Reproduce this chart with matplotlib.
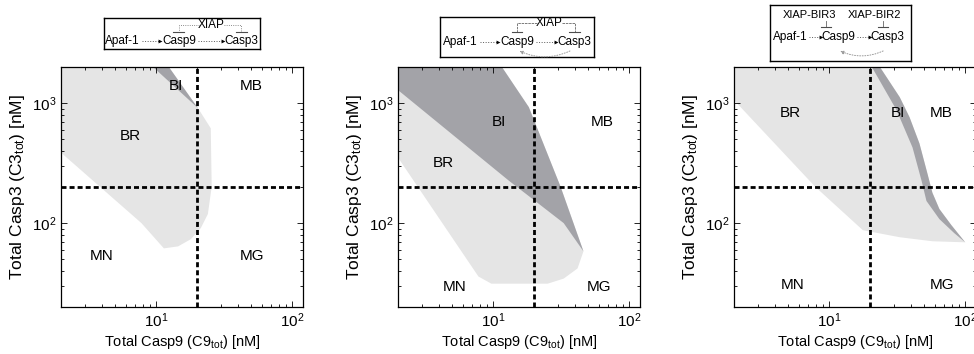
import matplotlib
matplotlib.use("Agg")
import matplotlib.pyplot as plt
from matplotlib.patches import Polygon

plt.rcParams["font.family"] = ["Liberation Sans", "DejaVu Sans"]
plt.rcParams["mathtext.fontset"] = "custom"
plt.rcParams["mathtext.rm"] = "Liberation Sans"
plt.rcParams["mathtext.it"] = "Liberation Sans:italic"

LIGHT = "#e5e5e5"
DARK = "#a3a3a8"

# threshold concentrations (dashed lines), nM
c9_thr = 20
c3_thr = 200

# region borders, (C9tot, C3tot) in nM
# panel 1: XIAP inhibits Casp9 and Casp3
p1_light_c9 = [2, 12.4, 20.3, 25.2, 25.6, 24.0, 21.3, 18.0, 14.5, 11.4, 7.8, 2]
p1_light_c3 = [2000, 2000, 908, 617, 201, 119, 91, 73.5, 64, 61.6, 100, 387]
p1_dark_c9 = [9.5, 12.4, 20.3]
p1_dark_c3 = [2000, 2000, 908]

# panel 2: XIAP + Casp3 -> Casp9 feedback
p2_light_c9 = [2, 11.6, 18.3, 31.3, 46.1, 41.7, 33.0, 25.2, 9.7, 7.8, 2]
p2_light_c3 = [2000, 2000, 925, 201, 58.2, 41.9, 34.5, 31.3, 31.3, 35.9, 352]
p2_dark_c9 = [2, 11.6, 18.3, 31.3, 46.1, 33.0, 19.9, 13.1, 2]
p2_dark_c3 = [2000, 2000, 925, 201, 58.2, 100, 156, 225, 1285]

# panel 3: separate BIR3 / BIR2 domains
p3_light_c9 = [2, 23.6, 33.0, 39.0, 46.1, 52.8, 57.4, 64.6, 79.1, 100,
               57.4, 33.0, 17.7, 7.9, 2]
p3_light_c3 = [2000, 2000, 1122, 762, 461, 258, 179, 131, 96.2, 69.2,
               70.6, 76.3, 87.3, 201, 1060]
p3_dark_c9 = [23.6, 33.0, 39.0, 46.1, 52.8, 57.4, 64.6, 79.1, 100,
              83.2, 64.6, 51.9, 47.8, 41.0, 31.3, 20.6]
p3_dark_c3 = [2000, 1122, 762, 461, 258, 179, 131, 96.2, 69.2,
              82.4, 108, 153, 225, 427, 874, 2000]

region_names = ["BI", "MB", "BR", "MN", "MG"]
p1_label_c9 = [14.0, 50, 6.5, 4.0, 51]
p1_label_c3 = [1390, 1390, 528, 53, 53]
p2_label_c9 = [11.0, 63, 4.3, 5.2, 60]
p2_label_c3 = [700, 700, 319, 29.5, 29.5]
p3_label_c9 = [31.9, 66.8, 5.2, 5.4, 67.9]
p3_label_c3 = [824, 824, 824, 30.7, 30.7]

panels = [
    (p1_light_c9, p1_light_c3, p1_dark_c9, p1_dark_c3, p1_label_c9, p1_label_c3),
    (p2_light_c9, p2_light_c3, p2_dark_c9, p2_dark_c3, p2_label_c9, p2_label_c3),
    (p3_light_c9, p3_light_c3, p3_dark_c9, p3_dark_c3, p3_label_c9, p3_label_c3),
]

fig = plt.figure(figsize=(9.74, 3.54), dpi=100)
W, H = 974, 354
ax_lefts = [61, 398, 734]


def fill_region(ax, xs, ys, color):
    ax.add_patch(Polygon(list(zip(xs, ys)), closed=True, facecolor=color,
                         edgecolor="none", zorder=1))


for left, (lx, ly, dx, dy, tx, ty) in zip(ax_lefts, panels):
    ax = fig.add_axes([left / W, 1 - 307 / H, 242 / W, 240 / H])
    ax.set_xscale("log")
    ax.set_yscale("log")
    ax.set_xlim(2, 120)
    ax.set_ylim(20, 2000)
    fill_region(ax, lx, ly, LIGHT)
    fill_region(ax, dx, dy, DARK)
    ax.axvline(c9_thr, color="black", lw=2.0, ls=(0, (1.8, 1.1)), zorder=3)
    ax.axhline(c3_thr, color="black", lw=2.0, ls=(0, (1.8, 1.1)), zorder=3)
    for name, x, y in zip(region_names, tx, ty):
        ax.text(x, y, name, fontsize=11, ha="center", va="center", zorder=4)
    ax.tick_params(which="both", direction="in", top=True, right=True,
                   labelsize=11, width=0.6)
    ax.tick_params(which="major", length=4)
    ax.tick_params(which="minor", length=2.2)
    for s in ax.spines.values():
        s.set_linewidth(0.9)
    ax.set_xlabel(r"Total Casp9 (C9$_{\mathrm{tot}}$) [nM]", fontsize=10.5,
                  labelpad=2)
    ax.set_ylabel(r"Total Casp3 (C3$_{\mathrm{tot}}$) [nM]", fontsize=12.5,
                  labelpad=3)


def scheme_box(px0, py0, px1, py1):
    b = fig.add_axes([px0 / W, 1 - py1 / H, (px1 - px0) / W, (py1 - py0) / H])
    b.set_xlim(0, 1)
    b.set_ylim(0, 1)
    b.set_xticks([])
    b.set_yticks([])
    for s in b.spines.values():
        s.set_linewidth(1.0)
    return b


def act_arrow(b, x0, x1, y):
    b.plot([x0, x1], [y, y], ls=":", lw=0.7, color="0.35")
    b.plot([x1], [y], marker=">", ms=2.8, color="black", mew=0)


def inhib(b, xs, ys, ls, bar=0.035):
    b.plot(xs, ys, ls=ls, lw=0.6, color="0.4")
    b.plot([xs[-1] - bar, xs[-1] + bar], [ys[-1], ys[-1]], lw=0.8, color="0.3")


def feedback(b, x_from, x_to, y, rad):
    b.annotate("", xy=(x_to, y), xytext=(x_from, y),
               arrowprops=dict(arrowstyle="-|>", ls=":", lw=0.7, color="0.6",
                               mutation_scale=5,
                               connectionstyle="arc3,rad=%g" % rad))


fs = 8.5

# scheme 1
b = scheme_box(104, 18, 260, 49)
yb, yt = 0.26, 0.76
for x, s in [(0.12, "Apaf-1"), (0.48, "Casp9"), (0.88, "Casp3")]:
    b.text(x, yb, s, fontsize=fs, ha="center", va="center")
b.text(0.69, yt, "XIAP", fontsize=fs, ha="center", va="center")
act_arrow(b, 0.245, 0.36, yb)
act_arrow(b, 0.605, 0.76, yb)
inhib(b, [0.61, 0.48, 0.48], [yt, yt, 0.55], ":")
inhib(b, [0.77, 0.88, 0.88], [yt, yt, 0.55], ":")

# scheme 2
b = scheme_box(440, 17, 594, 57)
yb, yt = 0.38, 0.84
for x, s in [(0.13, "Apaf-1"), (0.5, "Casp9"), (0.875, "Casp3")]:
    b.text(x, yb, s, fontsize=fs, ha="center", va="center")
b.text(0.71, yt, "XIAP", fontsize=fs, ha="center", va="center")
act_arrow(b, 0.26, 0.375, yb)
act_arrow(b, 0.625, 0.75, yb)
inhib(b, [0.63, 0.5, 0.5], [yt, yt, 0.63], (0, (3, 1)))
inhib(b, [0.79, 0.875, 0.875], [yt, yt, 0.63], (0, (3, 1)))
feedback(b, 0.86, 0.5, 0.18, -0.25)

# scheme 3
b = scheme_box(770, 5, 911, 61)
yb, yt = 0.42, 0.82
for x, s in [(0.145, "Apaf-1"), (0.485, "Casp9"), (0.835, "Casp3")]:
    b.text(x, yb, s, fontsize=fs, ha="center", va="center")
b.text(0.28, yt, "XIAP-BIR3", fontsize=8, ha="center", va="center")
b.text(0.74, yt, "XIAP-BIR2", fontsize=8, ha="center", va="center")
act_arrow(b, 0.28, 0.36, yb)
act_arrow(b, 0.615, 0.71, yb)
inhib(b, [0.40, 0.40], [0.71, 0.61], "-")
inhib(b, [0.80, 0.80], [0.71, 0.61], "-")
feedback(b, 0.82, 0.48, 0.2, -0.25)

fig.savefig("out.png", dpi=100)
